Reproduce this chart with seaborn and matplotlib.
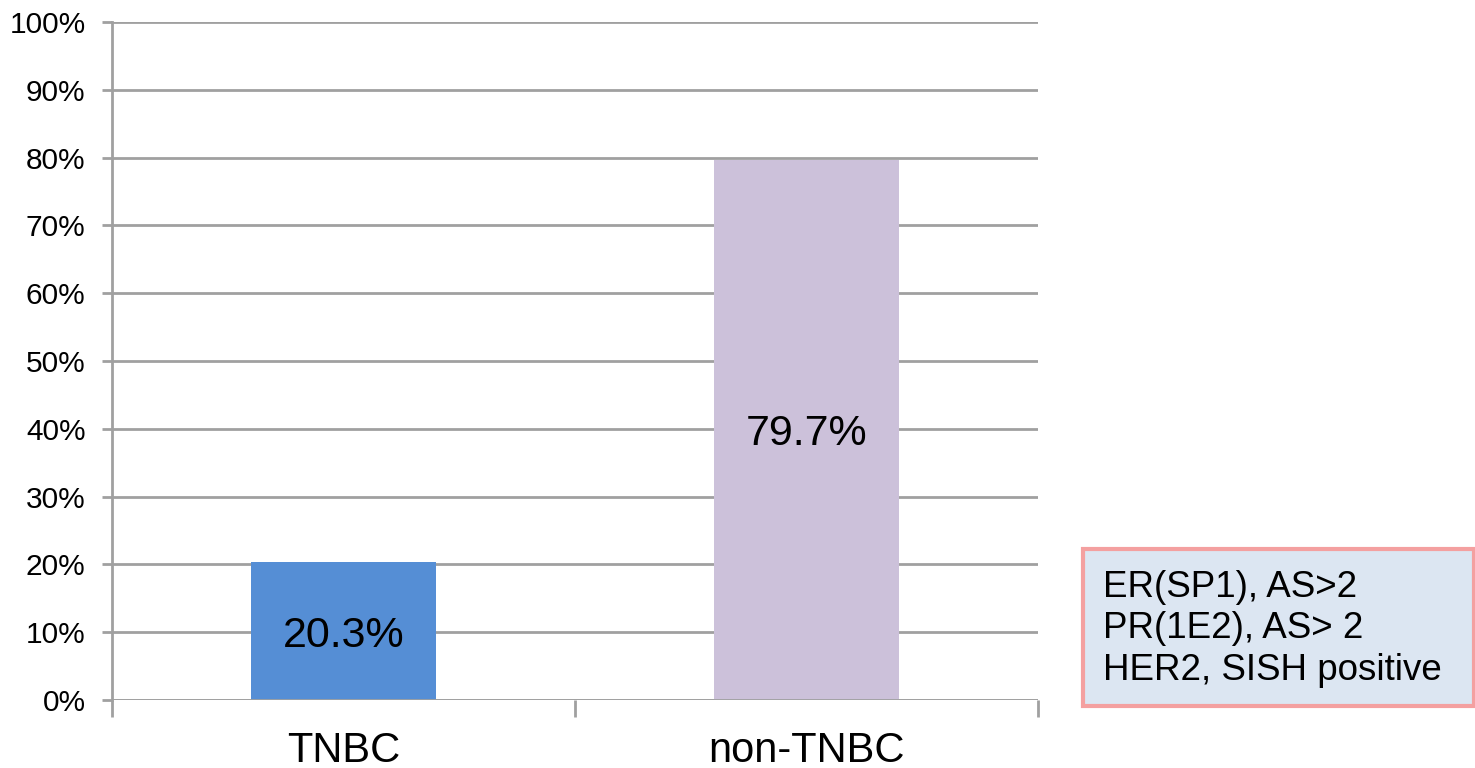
import matplotlib
matplotlib.use("Agg")
import matplotlib.pyplot as plt
from matplotlib.patches import Rectangle
from matplotlib.ticker import FixedLocator, PercentFormatter
import seaborn as sns
import pandas as pd

categories = ["TNBC", "non-TNBC"]
shares = [20.3, 79.7]
bar_colors = ["#558ED5", "#CCC1DA"]
y_ticks = list(range(0, 101, 10))
marker_notes = ["ER(SP1), AS>2", "PR(1E2), AS> 2", "HER2, SISH positive"]

sns.set_theme(style="white")
plt.rcParams["font.family"] = ["Liberation Sans", "DejaVu Sans"]

df = pd.DataFrame({"group": categories, "share": shares})

fig = plt.figure(figsize=(14.75, 7.68), dpi=100)
ax = fig.add_axes([112 / 1475, 1 - 700 / 768, (1038 - 112) / 1475, (700 - 22) / 768])

sns.barplot(data=df, x="group", y="share", hue="group", palette=bar_colors,
            width=0.4, saturation=1, legend=False, linewidth=0, ax=ax, zorder=3)

grid_color = "#A0A0A0"
ax.set_ylim(0, 100)
ax.set_xlim(-0.5, 1.5)
ax.set_yticks(y_ticks)
ax.yaxis.set_major_formatter(PercentFormatter(decimals=0))
ax.yaxis.grid(True, color=grid_color, linewidth=2, zorder=0)
ax.set_axisbelow(True)

for side in ["top", "right", "bottom"]:
    ax.spines[side].set_visible(False)
ax.spines["left"].set_color(grid_color)
ax.spines["left"].set_linewidth(2)
ax.axhline(0, color=grid_color, linewidth=2, zorder=4)

ax.tick_params(axis="y", which="major", left=True, length=7, width=2,
               color=grid_color, labelsize=21.5, pad=12, labelcolor="black")
ax.tick_params(axis="x", which="major", bottom=False, labelsize=30, pad=16,
               labelcolor="black")
ax.xaxis.set_minor_locator(FixedLocator([-0.5, 0.5, 1.5]))
ax.tick_params(axis="x", which="minor", bottom=True, length=12, width=2,
               color=grid_color)
ax.set_xlabel("")
ax.set_ylabel("")

for container in ax.containers:
    texts = ax.bar_label(container, labels=[f"{v:.1f}%" for v in container.datavalues],
                         label_type="center", fontsize=31, color="black")
    for t in texts:
        t.set_verticalalignment("center_baseline")

# annotation box with the marker definitions
box = Rectangle((1083 / 1475, 1 - 706 / 768), (1474 - 1083) / 1475, (706 - 549) / 768,
                transform=fig.transFigure, facecolor="#DCE6F2",
                edgecolor="#F4A0A0", linewidth=3, zorder=5)
fig.patches.append(box)
fig.text(1103 / 1475, 1 - 629 / 768, "\n".join(marker_notes), fontsize=26.5,
         ha="left", va="center", linespacing=1.24, color="black", zorder=6)

fig.savefig("out.png", dpi=100, facecolor="white")
